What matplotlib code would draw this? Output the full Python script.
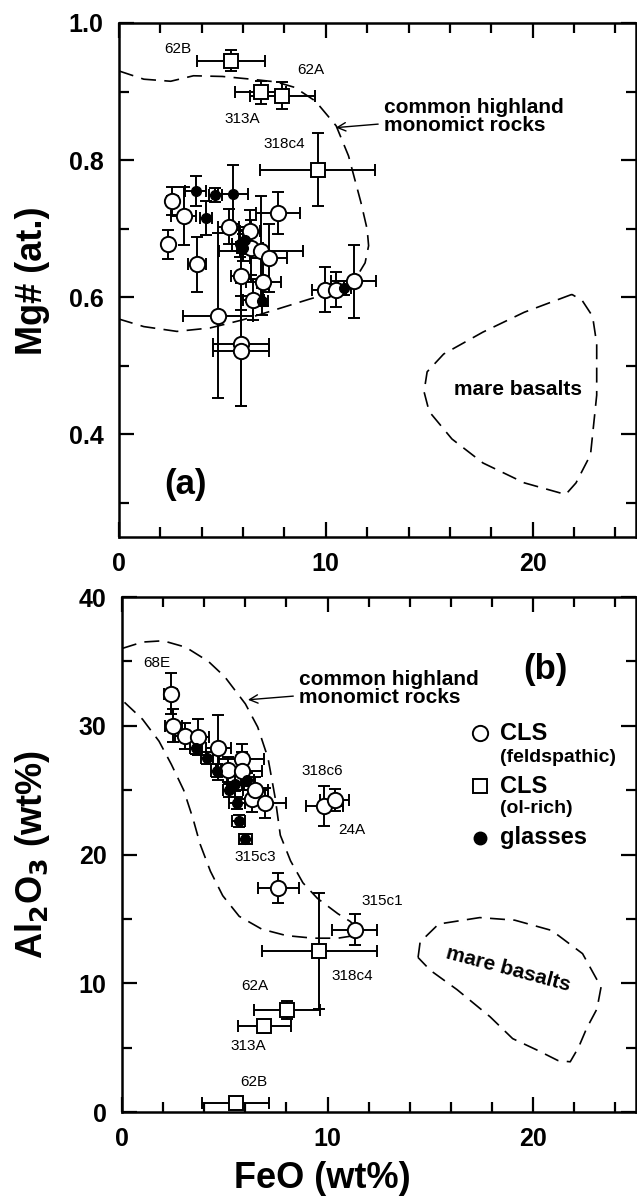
import numpy as np
import matplotlib
matplotlib.use('Agg')
import matplotlib.pyplot as plt
from matplotlib.ticker import MultipleLocator

plt.rcParams['font.family'] = ['Liberation Sans', 'DejaVu Sans']

# ---------- panel (a): Mg# vs FeO ----------
# CLS (feldspathic)
a_fs_feo = [2.58, 3.12, 2.39, 3.78, 5.30, 7.69, 6.33, 6.37, 6.86, 7.23, 5.90, 6.97, 6.49, 4.78, 5.90, 5.90, 9.95, 10.47, 11.35]
a_fs_mg = [0.740, 0.718, 0.677, 0.648, 0.703, 0.723, 0.697, 0.672, 0.667, 0.657, 0.631, 0.622, 0.596, 0.573, 0.531, 0.521, 0.611, 0.611, 0.623]
a_fs_xerr = [0.25, 0.6, 0.2, 0.45, 0.5, 1.06, 0.5, 0.6, 2.04, 0.9, 0.5, 0.85, 0.5, 1.7, 1.35, 1.35, 0.6, 0.5, 1.1]
a_fs_yerr = [0.02, 0.042, 0.021, 0.04, 0.025, 0.031, 0.03, 0.04, 0.08, 0.05, 0.05, 0.035, 0.03, 0.12, 0.09, 0.08, 0.033, 0.025, 0.053]

# CLS (ol-rich)
a_ol_feo = [5.42, 6.86, 7.90, 9.60]
a_ol_mg = [0.945, 0.899, 0.894, 0.786]
a_ol_xerr = [1.63, 1.23, 1.57, 2.77]
a_ol_yerr = [0.015, 0.017, 0.02, 0.053]
a_ol_names = ['62B', '313A', '62A', '318c4']
a_ol_lx = [2.85, 5.98, 9.26, 7.98]
a_ol_ly = [0.962, 0.860, 0.931, 0.823]

# glasses
a_gl_feo = [3.70, 4.66, 5.50, 4.21, 5.85, 6.00, 6.10, 6.90, 10.90]
a_gl_mg = [0.755, 0.749, 0.750, 0.716, 0.678, 0.672, 0.683, 0.594, 0.613]
a_gl_xerr = [0.5, 0.3, 0.72, 0.3, 0.4, 0.3, 0.3, 0.3, 0.3]
a_gl_yerr = [0.022, 0.01, 0.043, 0.025, 0.02, 0.02, 0.02, 0.02, 0.01]

# field outlines (a)
hl_a_x = [0.0, 1.2, 2.5, 3.6, 5.0, 6.4, 7.6, 8.5, 9.5, 10.5, 11.1, 11.7, 12.0, 12.07, 11.9, 11.5, 10.8, 9.2, 7.6, 6.0, 4.4, 2.8, 1.2, 0.0]
hl_a_y = [0.930, 0.918, 0.915, 0.923, 0.922, 0.918, 0.914, 0.906, 0.886, 0.850, 0.806, 0.738, 0.699, 0.675, 0.650, 0.630, 0.611, 0.597, 0.582, 0.567, 0.555, 0.550, 0.557, 0.568]
mb_a_x = [21.9, 19.6, 17.6, 15.7, 14.9, 14.75, 15.0, 16.1, 17.6, 19.6, 21.6, 22.1, 22.8, 23.1, 23.1, 22.9, 22.4]
mb_a_y = [0.604, 0.578, 0.549, 0.517, 0.491, 0.462, 0.433, 0.393, 0.358, 0.329, 0.312, 0.329, 0.370, 0.457, 0.532, 0.572, 0.595]

# ---------- panel (b): Al2O3 vs FeO ----------
b_fs_feo = [2.36, 2.50, 3.06, 3.72, 4.68, 5.16, 5.83, 5.83, 6.30, 6.48, 6.96, 9.84, 10.35, 11.31, 7.60]
b_fs_al = [32.5, 30.0, 29.2, 29.1, 28.3, 26.6, 27.4, 26.5, 24.3, 25.0, 24.0, 23.8, 24.2, 14.16, 17.4]
b_fs_xerr = [0.3, 0.4, 0.5, 0.5, 0.6, 0.6, 1.1, 1.0, 0.8, 0.6, 1.0, 0.9, 0.7, 1.1, 1.0]
b_fs_yerr = [1.6, 1.3, 1.0, 1.4, 2.5, 1.0, 1.2, 1.5, 1.0, 1.0, 1.2, 1.55, 0.85, 1.2, 1.2]
b_fs_names = ['68E', '318c6', '24A', '315c1', '315c3']
b_fs_lx = [1.67, 9.76, 11.2, 12.64, 6.5]
b_fs_ly = [34.9, 26.5, 21.9, 16.4, 19.8]

b_ol_feo = [5.54, 6.92, 8.03, 9.60]
b_ol_al = [0.67, 6.67, 7.96, 12.5]
b_ol_xerr = [1.63, 1.3, 1.6, 2.8]
b_ol_yerr = [0.3, 0.5, 0.7, 4.5]
b_ol_names = ['62B', '313A', '62A', '318c4']
b_ol_lx = [6.4, 6.15, 6.47, 11.2]
b_ol_ly = [2.35, 5.1, 9.8, 10.6]

b_gl_feo = [3.59, 4.15, 4.63, 5.51, 5.20, 5.60, 6.10, 5.67, 6.00]
b_gl_al = [28.3, 27.5, 26.5, 25.5, 25.0, 24.0, 25.8, 22.6, 21.2]
b_gl_xerr = [0.3, 0.3, 0.3, 0.4, 0.3, 0.4, 0.3, 0.3, 0.3]
b_gl_yerr = [0.5, 0.5, 0.5, 0.6, 0.5, 0.5, 0.5, 0.5, 0.4]

hl_b_x = [0.0, 1.0, 2.0, 3.1, 4.2, 5.0, 6.0, 6.6, 7.1, 7.45, 7.7, 8.2, 8.8, 9.5, 10.5, 11.1, 11.5, 11.3, 10.5, 9.3, 8.0, 6.8, 5.7, 4.9, 4.3, 3.8, 3.45, 3.0, 2.4, 1.8, 1.0, 0.0]
hl_b_y = [36.0, 36.5, 36.6, 36.1, 35.0, 33.8, 31.7, 29.9, 27.5, 24.4, 21.5, 19.5, 17.8, 16.6, 15.4, 14.8, 14.2, 13.7, 13.5, 13.5, 13.7, 14.2, 15.2, 16.8, 18.7, 20.8, 22.8, 25.0, 27.0, 28.8, 30.5, 32.0]
mb_b_x = [14.4, 14.5, 15.4, 17.4, 19.1, 20.9, 22.4, 23.3, 23.1, 22.6, 22.2, 21.8, 21.2, 20.2, 19.0, 17.9, 16.3, 15.0, 14.4]
mb_b_y = [12.0, 13.2, 14.6, 15.1, 14.9, 14.1, 12.3, 9.7, 8.0, 6.5, 5.0, 3.9, 4.0, 4.8, 5.7, 7.4, 9.5, 11.0, 12.0]

fig = plt.figure(figsize=(6.37, 12), dpi=100)
ax1 = fig.add_axes([119/637, 1-537/1200, 517/637, 514/1200])
ax2 = fig.add_axes([122/637, 1-1112/1200, 514/637, 515/1200])

dash = (0, (9, 5))
ebkw = dict(ls='none', ecolor='black', elinewidth=1.4, capsize=4.5, capthick=1.4)

def style(ax):
    ax.set_xlim(0, 25)
    ax.xaxis.set_major_locator(MultipleLocator(10))
    ax.xaxis.set_minor_locator(MultipleLocator(2))
    ax.tick_params(which='both', direction='in', top=True, right=True, width=1.6)
    ax.tick_params(which='major', length=11, labelsize=18, pad=11)
    ax.tick_params(which='minor', length=7.5)
    for lab in ax.get_xticklabels() + ax.get_yticklabels():
        lab.set_fontweight('bold')
    for s in ax.spines.values():
        s.set_linewidth(1.8)

# panel (a)
ax1.plot(hl_a_x, hl_a_y, color='black', lw=1.2, ls=dash)
ax1.plot(mb_a_x + mb_a_x[:1], mb_a_y + mb_a_y[:1], color='black', lw=1.2, ls=dash)
ax1.errorbar(a_fs_feo, a_fs_mg, xerr=a_fs_xerr, yerr=a_fs_yerr, fmt='o', ms=11,
             mfc='white', mec='black', mew=1.4, **ebkw)
ax1.errorbar(a_gl_feo, a_gl_mg, xerr=a_gl_xerr, yerr=a_gl_yerr, fmt='o', ms=7,
             mfc='black', mec='black', **ebkw)
ax1.errorbar(a_ol_feo, a_ol_mg, xerr=a_ol_xerr, yerr=a_ol_yerr, fmt='s', ms=10.5,
             mfc='white', mec='black', mew=1.4, **ebkw)
for n, x, y in zip(a_ol_names, a_ol_lx, a_ol_ly):
    ax1.text(x, y, n, fontsize=11, ha='center', va='center')
ax1.set_ylim(0.25, 1.0)
ax1.yaxis.set_major_locator(MultipleLocator(0.2))
ax1.yaxis.set_minor_locator(MultipleLocator(0.1))
ax1.yaxis.set_major_formatter(lambda v, p: '%.1f' % v)
style(ax1)
ax1.annotate('common highland\nmonomict rocks', xy=(10.35, 0.847), xytext=(12.8, 0.864),
             fontsize=15, fontweight='bold', ha='left', va='center', linespacing=0.95,
             arrowprops=dict(arrowstyle='->', lw=1.0, color='black'))
ax1.text(19.3, 0.465, 'mare basalts', fontsize=15, fontweight='bold', ha='center', va='center')
ax1.text(3.2, 0.327, '(a)', fontsize=25, fontweight='bold', ha='center', va='center')

# panel (b)
ax2.plot(hl_b_x, hl_b_y, color='black', lw=1.2, ls=dash)
ax2.plot(mb_b_x, mb_b_y, color='black', lw=1.2, ls=dash)
ax2.errorbar(b_fs_feo, b_fs_al, xerr=b_fs_xerr, yerr=b_fs_yerr, fmt='o', ms=11,
             mfc='white', mec='black', mew=1.4, **ebkw)
ax2.errorbar(b_gl_feo, b_gl_al, xerr=b_gl_xerr, yerr=b_gl_yerr, fmt='o', ms=7,
             mfc='black', mec='black', **ebkw)
ax2.errorbar(b_ol_feo, b_ol_al, xerr=b_ol_xerr, yerr=b_ol_yerr, fmt='s', ms=10.5,
             mfc='white', mec='black', mew=1.4, **ebkw)
for n, x, y in zip(b_fs_names + b_ol_names, b_fs_lx + b_ol_lx, b_fs_ly + b_ol_ly):
    ax2.text(x, y, n, fontsize=11, ha='center', va='center')
ax2.set_ylim(0, 40)
ax2.yaxis.set_major_locator(MultipleLocator(10))
ax2.yaxis.set_minor_locator(MultipleLocator(5))
style(ax2)
ax2.annotate('common highland\nmonomict rocks', xy=(5.99, 32.0), xytext=(8.6, 32.9),
             fontsize=15, fontweight='bold', ha='left', va='center', linespacing=0.95,
             arrowprops=dict(arrowstyle='->', lw=1.0, color='black'))
ax2.text(18.8, 11.1, 'mare basalts', fontsize=15, fontweight='bold', ha='center', va='center',
         rotation=-15)
ax2.text(20.6, 34.4, '(b)', fontsize=25, fontweight='bold', ha='center', va='center')

# legend drawn as markers + text
ax2.plot([17.4], [29.4], 'o', ms=11, mfc='white', mec='black', mew=1.4)
ax2.plot([17.4], [25.3], 's', ms=10, mfc='white', mec='black', mew=1.4)
ax2.plot([17.4], [21.3], 'o', ms=9, mfc='black', mec='black')
ax2.text(18.4, 29.4, 'CLS', fontsize=17, fontweight='bold', va='center')
ax2.text(18.4, 27.5, '(feldspathic)', fontsize=14, fontweight='bold', va='center')
ax2.text(18.4, 25.3, 'CLS', fontsize=17, fontweight='bold', va='center')
ax2.text(18.4, 23.6, '(ol-rich)', fontsize=14, fontweight='bold', va='center')
ax2.text(18.4, 21.3, 'glasses', fontsize=17, fontweight='bold', va='center')

fig.text(33/637, 0.766, 'Mg# (at.)', rotation=90, fontsize=26, fontweight='bold',
         ha='center', va='center')
fig.text(33/637, 0.288, 'Al$_\\mathbf{2}$O$_\\mathbf{3}$ (wt%)', rotation=90, fontsize=26,
         fontweight='bold', ha='center', va='center')
fig.text(322/637, 0.018, 'FeO (wt%)', fontsize=26, fontweight='bold', ha='center', va='center')

fig.savefig('out.png', dpi=100)
